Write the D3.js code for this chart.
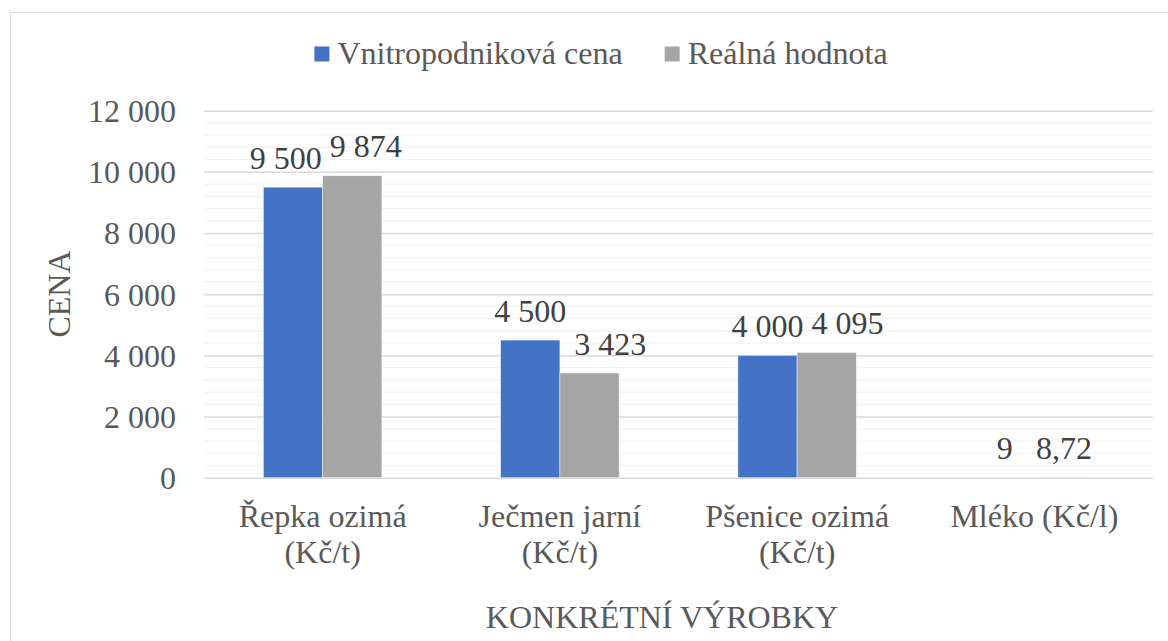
<!DOCTYPE html>
<html>
<head>
<meta charset="utf-8">
<script src="https://cdn.jsdelivr.net/npm/d3@7"></script>
</head>
<body style="margin:0">
<svg id="chart" width="1168" height="641" font-family="Liberation Serif" style="font-family: 'Liberation Serif'; display:block"></svg>
<script>
// ---- data ----
const categories = [["Řepka ozimá", "(Kč/t)"], ["Ječmen jarní", "(Kč/t)"], ["Pšenice ozimá", "(Kč/t)"], ["Mléko (Kč/l)"]];
const seriesNames = ["Vnitropodniková cena", "Reálná hodnota"];
const internalPrice = [9500, 4500, 4000, 9];
const realValue = [9874, 3423, 4095, 8.72];
const valueLabels1 = ["9 500", "4 500", "4 000", "9"];
const valueLabels2 = ["9 874", "3 423", "4 095", "8,72"];
const yTicks = [0, 2000, 4000, 6000, 8000, 10000, 12000];
const yTickLabels = ["0", "2 000", "4 000", "6 000", "8 000", "10 000", "12 000"];
const yTitle = "CENA";
const xTitle = "KONKRÉTNÍ VÝROBKY";

// ---- layout ----
const W = 1168, H = 641;
const plot = { left: 204, right: 1153, top: 110.7, bottom: 477.7 };
const colors = ["#4472C4", "#A5A5A5"];
const fontSize = 32;

const svg = d3.select("#chart");

function styleText(sel, fill) {
  return sel.attr("font-family", "Liberation Serif")
    .style("font-family", '"Liberation Serif"')
    .style("font-size", fontSize + "px").attr("fill", fill);
}

// chart border
svg.append("rect").attr("x", 10.5).attr("y", 12.5).attr("width", W + 20).attr("height", H + 20)
  .attr("fill", "#fff").attr("stroke", "#d9d9d9").attr("stroke-width", 1);

const x0 = d3.scaleBand().domain(d3.range(categories.length)).range([plot.left, plot.right]).paddingInner(0).paddingOuter(0);
const innerPad = (x0.bandwidth() - 118.5) / 2;
const x1 = d3.scaleBand().domain([0, 1]).range([innerPad, x0.bandwidth() - innerPad]);
const y = d3.scaleLinear().domain([0, 12000]).range([plot.bottom, plot.top]);

// minor gridlines
const minor = d3.range(0, 12001, 400).filter(v => v % 2000 !== 0);
svg.append("g").selectAll("line").data(minor).join("line")
  .attr("x1", plot.left).attr("x2", plot.right)
  .attr("y1", d => y(d)).attr("y2", d => y(d))
  .attr("stroke", "#f2f2f2").attr("stroke-width", 1.2);

// major gridlines via axis
const gAxis = svg.append("g").attr("transform", `translate(${plot.left},0)`)
  .call(d3.axisLeft(y).tickValues(yTicks).tickSize(-(plot.right - plot.left)).tickFormat((d, i) => yTickLabels[i]));
gAxis.select(".domain").remove();
gAxis.attr("font-family", "Liberation Serif").attr("font-size", null);
gAxis.selectAll(".tick line").attr("stroke", "#d9d9d9").attr("stroke-width", 1.5);
styleText(gAxis.selectAll(".tick text"), "#595959")
  .attr("x", -28).attr("dy", "0.34em");

// bars
const seriesData = [internalPrice, realValue];
const labelsData = [valueLabels1, valueLabels2];
seriesData.forEach((vals, s) => {
  svg.append("g").selectAll("rect").data(vals).join("rect")
    .attr("x", (d, i) => x0(i) + x1(s))
    .attr("width", x1.bandwidth())
    .attr("y", d => y(d))
    .attr("height", d => y(0) - y(d))
    .attr("fill", colors[s])
    .attr("stroke", "#ffffff").attr("stroke-opacity", 0.6).attr("stroke-width", 0.75);
});

// data labels with simple overlap avoidance
const gLab = svg.append("g");
categories.forEach((c, i) => {
  const nodes = [0, 1].map(s => {
    const v = seriesData[s][i];
    const t = styleText(gLab.append("text"), "#404040")
      .attr("text-anchor", "middle")
      .attr("y", y(v) - 18.5)
      .text(labelsData[s][i]);
    return { t, cx: x0(i) + x1(s) + x1.bandwidth() / 2, w: t.node().getComputedTextLength() };
  });
  const a = nodes[0], b = nodes[1];
  const overlap = (a.cx + a.w / 2 + 8) - (b.cx - b.w / 2);
  if (overlap > 0 && Math.abs(y(seriesData[0][i]) - y(seriesData[1][i])) < 40) {
    if (Math.abs(y(seriesData[0][i]) - y(seriesData[1][i])) < 15 && seriesData[0][i] > 8000) {
      a.cx -= overlap * 0.35; b.cx += overlap * 0.65;
    } else {
      b.cx += overlap;
    }
  }
  nodes.forEach(n => n.t.attr("x", n.cx));
});

// category labels
const gCat = svg.append("g");
categories.forEach((lines, i) => {
  const cx = x0(i) + x0.bandwidth() / 2;
  const t = styleText(gCat.append("text"), "#595959")
    .attr("text-anchor", "middle")
    .attr("x", cx)
    .attr("y", 527);
  lines.forEach((ln, k) => {
    t.append("tspan").attr("x", cx).attr("dy", k === 0 ? 0 : 36).text(ln);
  });
});

// axis titles
styleText(svg.append("text"), "#595959")
  .attr("transform", `translate(70,294) rotate(-90)`)
  .attr("text-anchor", "middle").text(yTitle);

styleText(svg.append("text"), "#595959")
  .attr("x", 662).attr("y", 628)
  .attr("text-anchor", "middle").text(xTitle);

// legend
const gLeg = svg.append("g");
const legItems = seriesNames.map((name, s) => {
  const g = gLeg.append("g");
  g.append("rect").attr("x", 0).attr("y", 46.5).attr("width", 15).attr("height", 15).attr("fill", colors[s]);
  const t = styleText(g.append("text"), "#595959").attr("x", 23).attr("y", 64).text(name);
  return { g, w: 23 + t.node().getComputedTextLength() };
});
const legGap = 42;
const legTotal = d3.sum(legItems, d => d.w) + legGap * (legItems.length - 1);
let lx = 601 - legTotal / 2;
legItems.forEach(it => { it.g.attr("transform", `translate(${lx},0)`); lx += it.w + legGap; });
</script>
</body>
</html>
